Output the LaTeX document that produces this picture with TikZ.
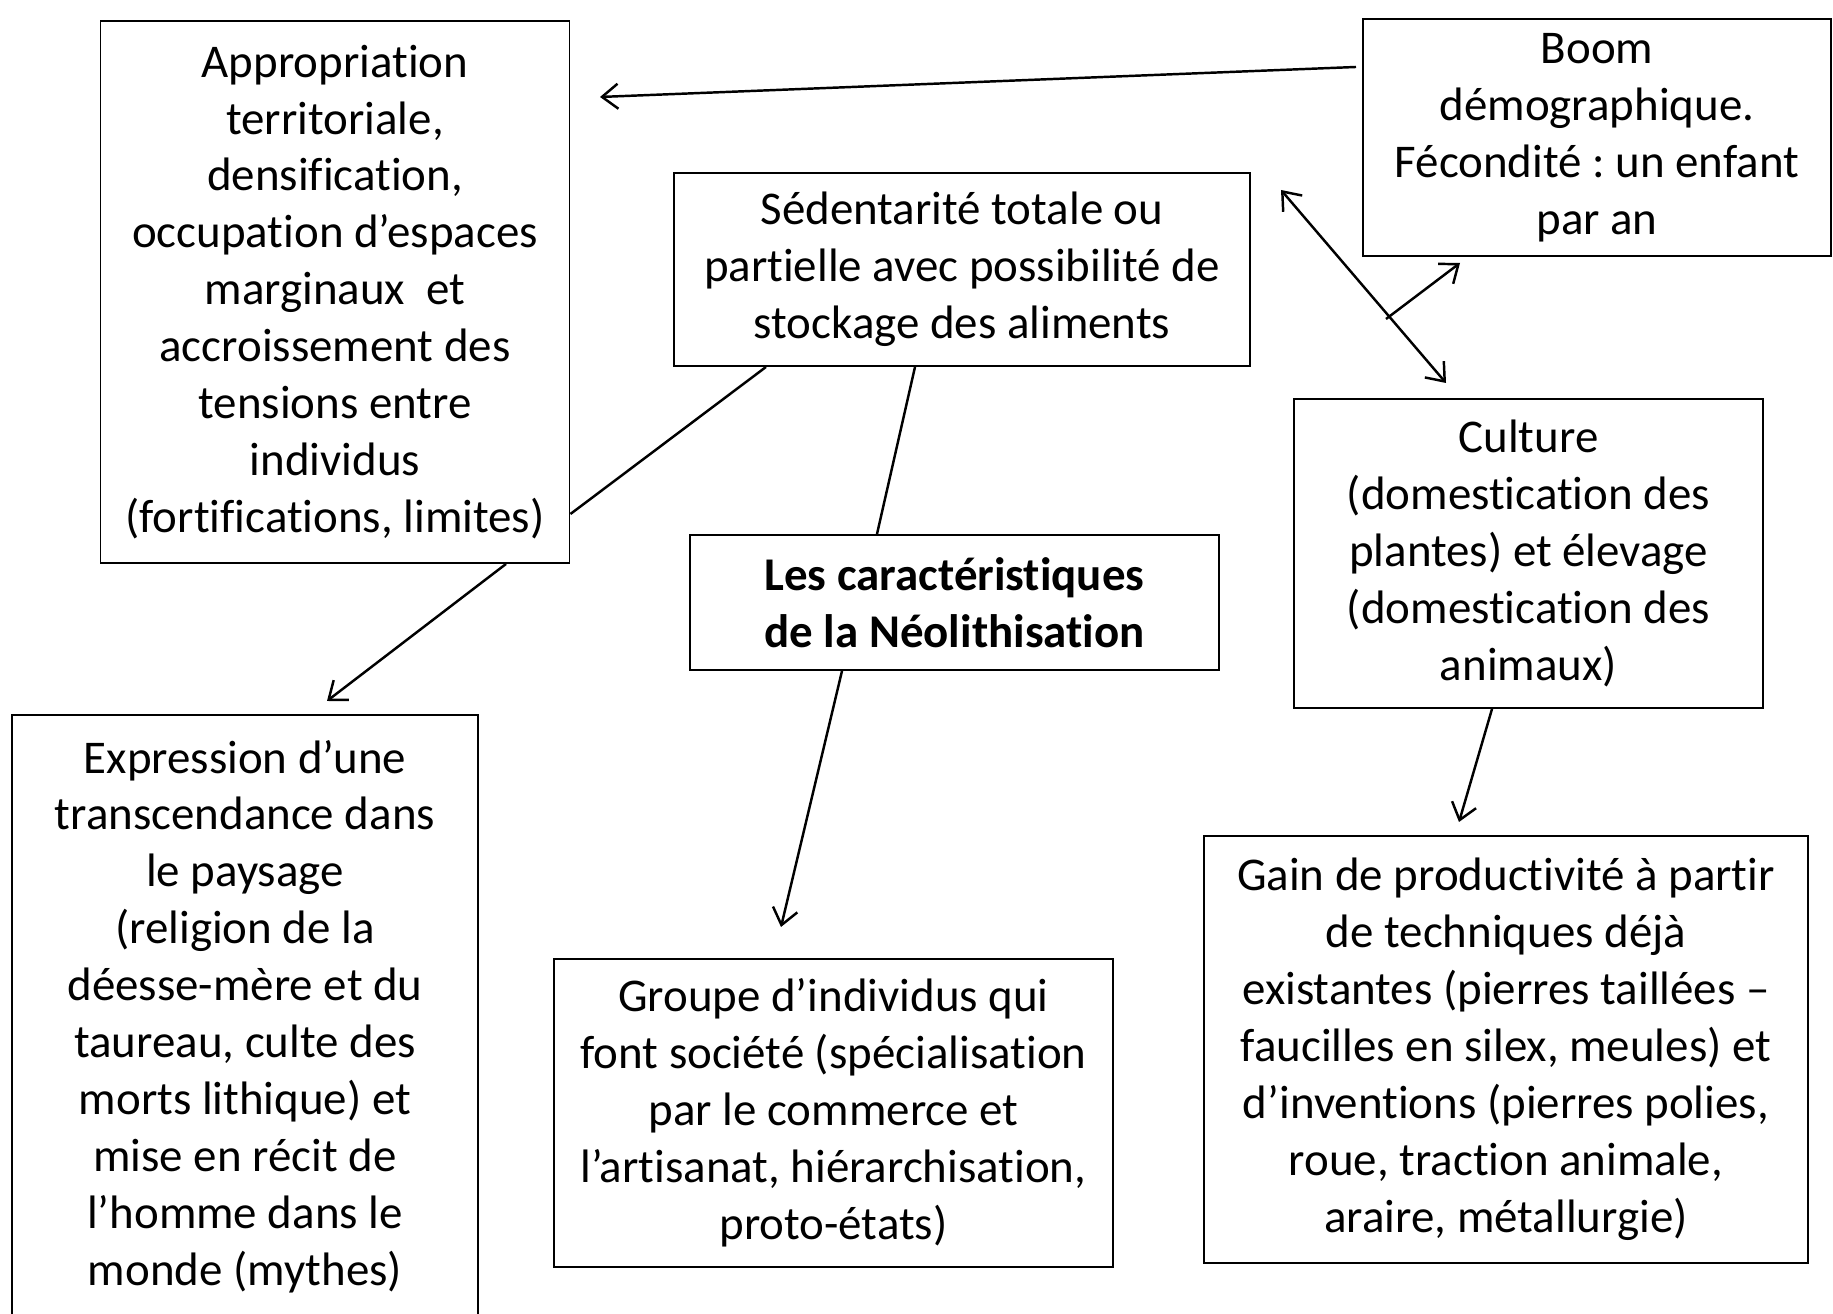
\documentclass[tikz,border=0pt]{standalone}
\usepackage{fontspec}
\setmainfont{Carlito}[RawFeature={-liga}]
\usetikzlibrary{arrows.meta, positioning, calc}
\frenchspacing

\begin{document}
\begin{tikzpicture}[
    box/.style={rectangle, draw, line width=1.1pt, inner sep=0pt, align=center,
                font=\fontsize{26.7pt}{32.4pt}\selectfont},
    link/.style={line width=1.4pt},
    arr/.style={link, -{Straight Barb[length=0.32cm, width=0.5cm, line width=1.4pt]}},
    dblarr/.style={link, {Straight Barb[length=0.32cm, width=0.5cm, line width=1.4pt]}-{Straight Barb[length=0.32cm, width=0.5cm, line width=1.4pt]}}]

    \useasboundingbox (0,0) rectangle (36.66,26.28);

    % Boxes
    \node[box, minimum width=9.38cm, minimum height=10.84cm] (appro) at (6.70, 20.44)
        {Appropriation\\territoriale,\\densification,\\occupation d’espaces\\marginaux~ et\\accroissement des\\tensions entre\\individus\\(fortifications, limites)};
    \node[box, minimum width=9.36cm, minimum height=4.74cm] (boom) at (31.94, 23.53)
        {Boom\\démographique.\\Fécondité : un enfant\\par an};
    \node[box, minimum width=11.52cm, minimum height=3.86cm] (sed) at (19.24, 20.89)
        {Sédentarité totale ou\\partielle avec possibilité de\\stockage des aliments};
    \node[box, minimum width=10.58cm, minimum height=2.7cm] (neo) at (19.09, 14.23)
        {\textbf{Les caractéristiques}\\\textbf{de la Néolithisation}};
    \node[box, minimum width=9.38cm, minimum height=6.18cm] (cult) at (30.57, 15.21)
        {Culture\\(domestication des\\plantes) et élevage\\(domestication des\\animaux)};
    \node[box, minimum width=9.32cm, minimum height=12.06cm] (expr) at (4.90, 5.95)
        {Expression d’une\\transcendance dans\\le paysage\\(religion de la\\déesse-mère et du\\taureau, culte des\\morts lithique) et\\mise en récit de\\l’homme dans le\\monde (mythes)};
    \node[box, minimum width=11.18cm, minimum height=6.16cm] (grp) at (16.67, 4.02)
        {Groupe d’individus qui\\font société (spécialisation\\par le commerce et\\l’artisanat, hiérarchisation,\\proto-états)};
    \node[box, minimum width=12.08cm, minimum height=8.54cm] (gain) at (30.12, 5.29)
        {Gain de productivité à partir\\de techniques déjà\\existantes (pierres taillées –\\faucilles en silex, meules) et\\d’inventions (pierres polies,\\roue, traction animale,\\araire, métallurgie)};

    % Free ends
    \coordinate (boomout) at (27.12, 24.94);
    \coordinate (approin) at (12.00, 24.34);
    \coordinate (exprin) at (6.54, 12.26);
    \coordinate (grpin) at (15.62, 7.74);
    \coordinate (dblA) at (25.62, 22.48);
    \coordinate (dblB) at (28.92, 18.62);
    \coordinate (demoA) at (27.72, 19.90);
    \coordinate (demoB) at (29.20, 21.02);
    \coordinate (gainin) at (29.18, 9.84);

    % Connectors
    \draw[arr] (boomout) -- (approin);
    \draw[link] ([xshift=-3.92cm]sed.south) -- ([yshift=-4.44cm]appro.east);
    \draw[arr] ([xshift=3.42cm]appro.south) -- (exprin);
    \draw[link] ([xshift=-0.94cm]sed.south) -- ([xshift=-1.55cm]neo.north);
    \draw[arr] ([xshift=-2.25cm]neo.south) -- (grpin);
    \draw[dblarr] (dblA) -- (dblB);
    \draw[arr] (demoA) -- (demoB);
    \draw[arr] ([xshift=-0.73cm]cult.south) -- (gainin);
\end{tikzpicture}
\end{document}
